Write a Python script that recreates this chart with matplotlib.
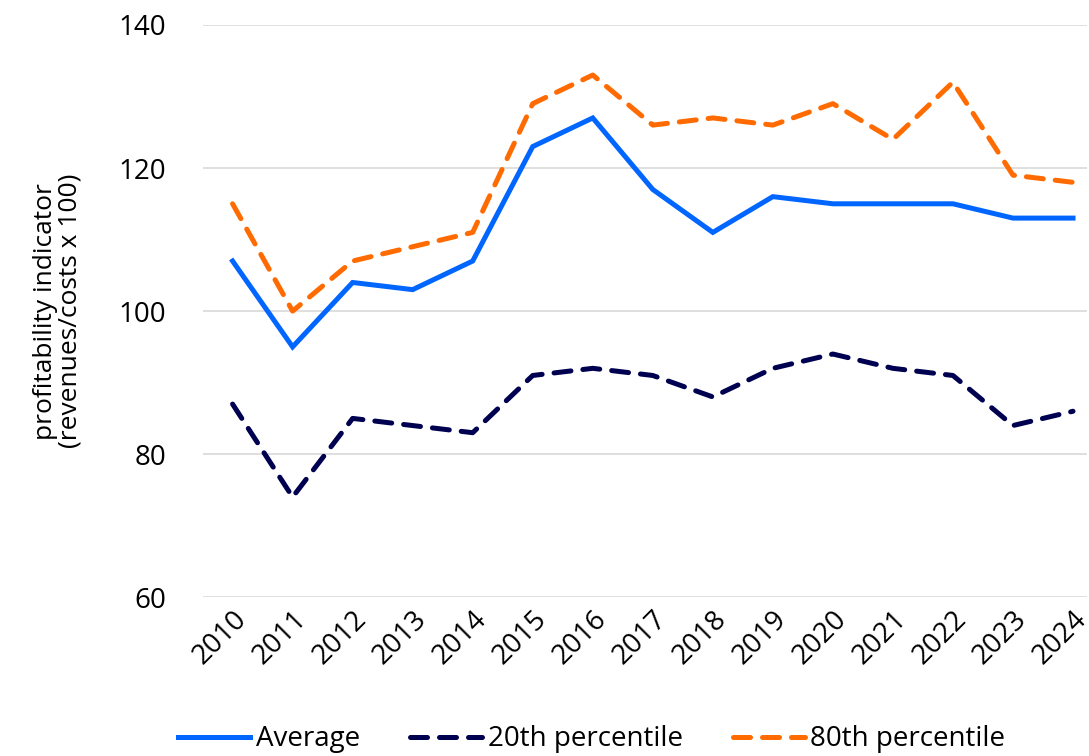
import matplotlib.pyplot as plt

plt.rcParams['font.family'] = ['Open Sans', 'DejaVu Sans']

# Profitability indicator (revenues/costs x 100) by year
years = [str(y) for y in range(2010, 2025)]
average = [107, 95, 104, 103, 107, 123, 127, 117, 111, 116, 115, 115, 115, 113, 113]
p20 = [87, 74, 85, 84, 83, 91, 92, 91, 88, 92, 94, 92, 91, 84, 86]
p80 = [115, 100, 107, 109, 111, 129, 133, 126, 127, 126, 129, 124, 132, 119, 118]

fig = plt.figure(figsize=(10.89, 7.56), dpi=100)
ax = fig.add_axes([0.186, 0.21, 0.812, 0.757])

x = range(len(years))
ax.plot(x, average, '-', color='#0066FF', linewidth=3.6, label='Average',
        solid_joinstyle='miter')
ax.plot(x, p20, '--', color='#000050', linewidth=3.6, dashes=(3.4, 2.4),
        dash_capstyle='round', label='20th percentile')
ax.plot(x, p80, '--', color='#FF6B00', linewidth=3.6, dashes=(3.4, 2.4),
        dash_capstyle='round', label='80th percentile')

ax.set_ylim(60, 140)
ax.set_yticks([60, 80, 100, 120, 140])
ax.set_xlim(-0.5, 14.23)
ax.set_xticks(list(x))
ax.set_xticklabels(years, rotation=45, ha='right', rotation_mode='anchor')

ax.grid(axis='y', color='#d9d9d9', linewidth=1.2)
ax.set_axisbelow(True)
for s in ax.spines.values():
    s.set_visible(False)
ax.tick_params(axis='both', length=0, labelsize=20, colors='black')
ax.tick_params(axis='y', pad=26)
ax.tick_params(axis='x', pad=6)

ax.set_ylabel('profitability indicator\n(revenues/costs x 100)', fontsize=19,
              linespacing=1.0, labelpad=26)

ax.legend(loc='upper center', bbox_to_anchor=(0.44, -0.18), ncol=3,
          frameon=False, fontsize=20, handlelength=2.6, columnspacing=1.8,
          handletextpad=0.2)

fig.savefig('out.png', dpi=100)
